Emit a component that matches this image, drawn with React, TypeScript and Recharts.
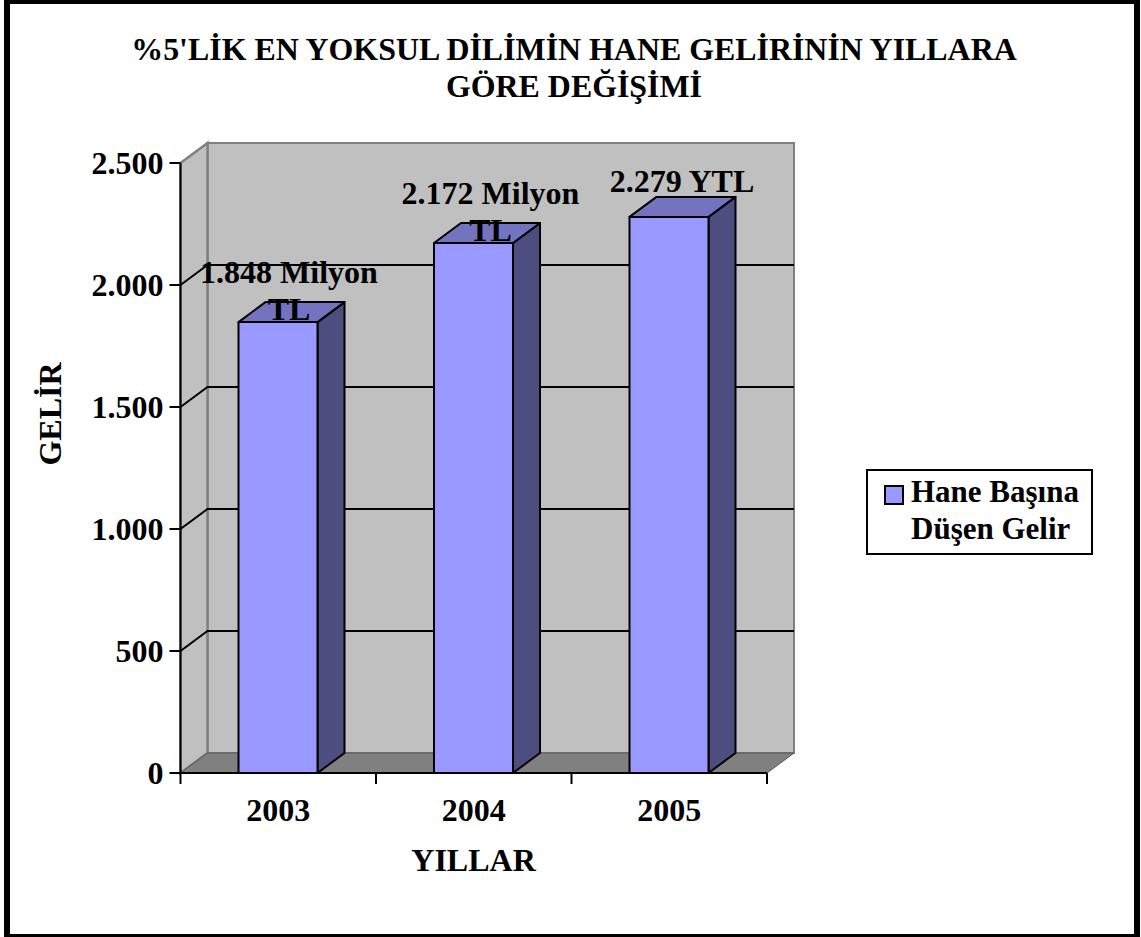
import React from 'react'
import { Bar, BarChart, CartesianGrid, LabelList, Legend, XAxis, YAxis, usePlotArea } from 'recharts'

const years = ['2003', '2004', '2005']
const income = [1848, 2172, 2279]
const valueLabels = [['1.848 Milyon', 'TL'], ['2.172 Milyon', 'TL'], ['2.279 YTL']]
const yTicks = [0, 500, 1000, 1500, 2000, 2500]
const seriesName = 'Hane Başına Düşen Gelir'
const titleLines = ["%5'LİK EN YOKSUL DİLİMİN HANE GELİRİNİN YILLARA", 'GÖRE DEĞİŞİMİ']

const data = years.map((year, i) => ({ year, income: income[i] }))

const FONT = '"Liberation Serif", "Times New Roman", serif'
const DX = 27
const DY = 20
const labelShift = [11, 17, 13]
const textStyle = { fill: '#000', fontSize: 32, fontWeight: 'bold', fontFamily: FONT }

const fmt = (v: number) => (v >= 1000 ? `${Math.floor(v / 1000)}.${String(v % 1000).padStart(3, '0')}` : String(v))

function Walls() {
  const p = usePlotArea()
  if (!p) return null
  const { x, y, width, height } = p
  const b = y + height
  return (
    <g>
      <polygon points={`${x + DX},${y - DY} ${x + width + DX},${y - DY} ${x + width + DX},${b - DY} ${x + DX},${b - DY}`} fill="#c0c0c0" stroke="#808080" strokeWidth={2} />
      <polygon points={`${x},${y} ${x + DX},${y - DY} ${x + DX},${b - DY} ${x},${b}`} fill="#c0c0c0" stroke="#808080" strokeWidth={2.5} />
      <polygon points={`${x},${b} ${x + DX},${b - DY} ${x + width + DX},${b - DY} ${x + width},${b}`} fill="#808080" stroke="#555" strokeWidth={1} />
    </g>
  )
}

// the category ticks of the original sit between the bars, not under them
function CategoryTicks() {
  const p = usePlotArea()
  if (!p) return null
  const b = p.y + p.height
  return (
    <g stroke="#000" strokeWidth={2}>
      {[...years, ''].map((_, i) => {
        const tx = p.x + (p.width * i) / years.length
        return <line key={i} x1={tx} x2={tx} y1={b} y2={b + 11} />
      })}
    </g>
  )
}

function GridLine(props: any) {
  const { x1, x2, y1, index } = props
  // top and bottom lines belong to the wall outline
  if (index === 0 || index === yTicks.length - 1) return null
  return (
    <polyline points={`${x1},${y1} ${x1 + DX},${y1 - DY} ${x2 + DX},${y1 - DY}`} fill="none" stroke="#000" strokeWidth={2} />
  )
}

function Bar3D(props: any) {
  const { x, y, width, height } = props
  const r = x + width
  const b = y + height
  return (
    <g stroke="#000" strokeWidth={2} strokeLinejoin="round">
      <polygon points={`${r},${y} ${r + DX},${y - DY} ${r + DX},${b - DY} ${r},${b}`} fill="#4d4d80" />
      <polygon points={`${x},${y} ${x + DX},${y - DY} ${r + DX},${y - DY} ${r},${y}`} fill="#7373bf" />
      <rect x={x} y={y} width={width} height={height} fill="#9999ff" />
    </g>
  )
}

function ValueLabel(props: any) {
  const { x, y, width, index } = props
  const lines = valueLabels[index]
  const cx = x + width / 2 + labelShift[index]
  const first = lines.length > 1 ? y - 39 : y - 25
  return (
    <text x={cx} y={first} textAnchor="middle" fontFamily={FONT} fontWeight="bold" fontSize={32} fill="#000">
      {lines.map((line, i) => (
        <tspan key={line} x={cx} dy={i === 0 ? 0 : 37}>{line}</tspan>
      ))}
    </text>
  )
}

function LegendBox() {
  const words = seriesName.split(' ')
  return (
    <div style={{ width: 223, height: 82, border: '2px solid #000', background: '#fff', position: 'relative', fontFamily: FONT, fontWeight: 'bold', fontSize: 31, lineHeight: '37px', color: '#000', boxSizing: 'content-box' }}>
      <div style={{ position: 'absolute', left: 16, top: 14, width: 16, height: 16, background: '#9999ff', border: '2px solid #000' }} />
      <div style={{ position: 'absolute', left: 43, top: 2, whiteSpace: 'nowrap', textAlign: 'left' }}>
        {words.slice(0, 2).join(' ')}<br />{words.slice(2).join(' ')}
      </div>
    </div>
  )
}

export default function App() {
  return (
    <div style={{ position: 'absolute', left: 0, top: 0, width: 1141, height: 937, background: '#fff' }}>
      <BarChart
        width={1141}
        height={937}
        data={data}
        margin={{ top: 163, right: 147, bottom: 74, left: 100.5 }}
        style={{ fontFamily: FONT }}
      >
        <path d="M4 0H1140V937H4Z M10 4V934H1134V4Z" fill="#000" fillRule="evenodd" />
        {titleLines.map((line, i) => (
          <text key={line} x={574} y={60 + i * 37} textAnchor="middle" fontFamily={FONT} fontWeight="bold" fontSize={31.9} fill="#000">{line}</text>
        ))}
        <Walls />
        <CartesianGrid zIndex={1} vertical={false} horizontal={(p: any) => <GridLine {...p} key={p.key ?? p.index} />} />
        <XAxis
          dataKey="year"
          stroke="#000"
          strokeWidth={2}
          interval={0}
          height={90}
          tickLine={false}
          tickMargin={19}
          tick={textStyle}
          label={{ value: 'YILLAR', position: { x: 293, y: 98 }, textAnchor: 'middle', ...textStyle }}
        />
        <CategoryTicks />
        <YAxis
          domain={[0, 2500]}
          ticks={yTicks}
          stroke="#000"
          strokeWidth={2}
          interval={0}
          tickSize={11}
          tickMargin={6}
          tickFormatter={fmt}
          width={80}
          tick={textStyle}
          label={{ value: 'GELİR', angle: -90, position: { x: -40, y: 251 }, textAnchor: 'middle', ...textStyle }}
        />
        <Legend
          layout="vertical"
          align="right"
          verticalAlign="middle"
          content={<LegendBox />}
          wrapperStyle={{ left: 866, top: 469, right: 'auto', width: 227, height: 86 }}
        />
        <Bar dataKey="income" name={seriesName} barSize={79} shape={<Bar3D />} isAnimationActive={false}>
          <LabelList dataKey="income" content={<ValueLabel />} />
        </Bar>
      </BarChart>
    </div>
  )
}
